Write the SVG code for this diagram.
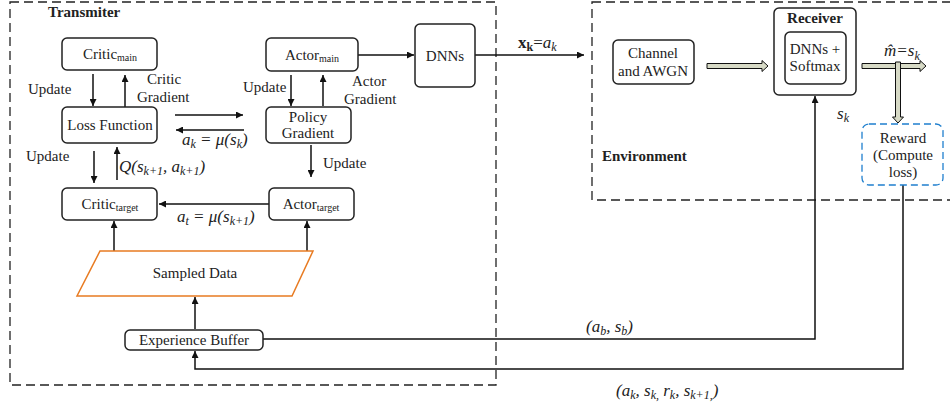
<svg xmlns="http://www.w3.org/2000/svg" width="950" height="405" viewBox="0 0 950 405">
<style>
  text { font-family: "Liberation Serif", "DejaVu Serif", serif; font-size: 15px; fill: #222; }
  .b { font-weight: bold; }
  .i { font-style: italic; }
  .sub { font-size: 10px; }
  .m { font-size: 17px; }
  .m .sub { font-size: 12px; }
  .node { fill: #fff; stroke: #222; stroke-width: 1.5; }
  .frame { fill: none; stroke: #222; stroke-width: 1.3; stroke-dasharray: 9 5; }
  .line { fill: none; stroke: #111; stroke-width: 1.5; }
  .hollow { fill: #d7dac6; stroke: #111; stroke-width: 1; }
</style>
<defs>
  <marker id="ah" viewBox="0 0 10 10" refX="10" refY="5" markerWidth="7" markerHeight="7" markerUnits="userSpaceOnUse" orient="auto">
    <path d="M0,0 L10,5 L0,10 z" fill="#111"/>
  </marker>
</defs>
<rect width="950" height="405" fill="#fff"/>

<!-- frames -->
<g id="transmitter">
  <rect class="frame" x="10" y="2" width="486" height="383"/>
  <text class="b" x="48" y="17" font-size="16">Transmiter</text>
</g>
<g id="environment">
  <rect class="frame" x="592" y="2" width="370" height="198"/>
  <text class="b" x="602" y="161">Environment</text>
</g>

<!-- connectors -->
<g id="connectors">
  <line class="line" x1="93" y1="74" x2="93" y2="106" marker-end="url(#ah)"/>
  <line class="line" x1="125" y1="107" x2="125" y2="75" marker-end="url(#ah)"/>
  <line class="line" x1="94" y1="151" x2="94" y2="183" marker-end="url(#ah)"/>
  <line class="line" x1="117" y1="180" x2="117" y2="147" marker-end="url(#ah)"/>
  <line class="line" x1="175" y1="115" x2="243" y2="115" marker-end="url(#ah)"/>
  <line class="line" x1="244" y1="130" x2="176" y2="130" marker-end="url(#ah)"/>
  <line class="line" x1="291" y1="75" x2="291" y2="106" marker-end="url(#ah)"/>
  <line class="line" x1="323" y1="106" x2="323" y2="75" marker-end="url(#ah)"/>
  <line class="line" x1="311" y1="145" x2="311" y2="177" marker-end="url(#ah)"/>
  <line class="line" x1="269" y1="204" x2="159" y2="204" marker-end="url(#ah)"/>
  <line class="line" x1="114" y1="251" x2="114" y2="221" marker-end="url(#ah)"/>
  <line class="line" x1="307" y1="251" x2="307" y2="221" marker-end="url(#ah)"/>
  <line class="line" x1="195" y1="329" x2="195" y2="297" marker-end="url(#ah)"/>
  <line class="line" x1="358" y1="55" x2="414" y2="55" marker-end="url(#ah)"/>
  <line class="line" x1="475" y1="55" x2="584" y2="55" marker-end="url(#ah)"/>
  <polyline class="line" points="263,339 815,339 815,96" marker-end="url(#ah)"/>
  <polyline class="line" points="903,185 903,369 195,369 195,351" marker-end="url(#ah)"/>
  <path class="hollow" d="M707,63.5 H762 V60.5 L768,66 L762,71.5 V68.5 H707 z"/>
  <path class="hollow" d="M862,63.5 H920 V60.5 L926,66 L920,71.5 V68.5 H862 z"/>
  <path class="hollow" d="M895.5,62 H900.5 V117 H903.5 L898,123 L892.5,117 H895.5 z"/>
  <!-- labels -->
  <text x="28" y="94">Update</text>
  <text x="147" y="84">Critic</text>
  <text x="137" y="102">Gradient</text>
  <text x="26" y="161">Update</text>
  <text x="243" y="92">Update</text>
  <text x="352" y="86">Actor</text>
  <text x="344" y="104">Gradient</text>
  <text x="323" y="168">Update</text>
  <text class="i m" x="182" y="145">a<tspan class="sub" dy="3">k</tspan><tspan dy="-3"> = μ(s</tspan><tspan class="sub" dy="3">k</tspan><tspan dy="-3">)</tspan></text>
  <text class="i m" x="119" y="172">Q(s<tspan class="sub" dy="3">k+1</tspan><tspan dy="-3">, a</tspan><tspan class="sub" dy="3">k+1</tspan><tspan dy="-3">)</tspan></text>
  <text class="i m" x="177" y="222">a<tspan class="sub" dy="3">t</tspan><tspan dy="-3"> = μ(s</tspan><tspan class="sub" dy="3">k+1</tspan><tspan dy="-3">)</tspan></text>
  <text class="m" x="518" y="48"><tspan class="b">x</tspan><tspan class="b sub" dy="3">k</tspan><tspan dy="-3">=</tspan><tspan class="i">a</tspan><tspan class="i sub" dy="3">k</tspan></text>
  <text class="i m" x="884" y="56">m̂=s<tspan class="sub" dy="4">k</tspan></text>
  <text class="i m" x="837" y="119">s<tspan class="sub" dy="3">k</tspan></text>
  <text class="i m" x="586" y="332">(a<tspan class="sub" dy="3">b</tspan><tspan dy="-3">, s</tspan><tspan class="sub" dy="3">b</tspan><tspan dy="-3">)</tspan></text>
  <text class="i m" x="616" y="396">(a<tspan class="sub" dy="3">k</tspan><tspan dy="-3">, s</tspan><tspan class="sub" dy="3">k,</tspan><tspan dy="-3"> r</tspan><tspan class="sub" dy="3">k</tspan><tspan dy="-3">, s</tspan><tspan class="sub" dy="3">k+1,</tspan><tspan dy="-3">)</tspan></text>
</g>

<!-- nodes -->
<g id="critic-main">
  <rect class="node" x="62" y="38" width="95" height="32" rx="5"/>
  <text x="110" y="59" text-anchor="middle">Critic<tspan class="sub" dy="2">main</tspan></text>
</g>
<g id="loss-function">
  <rect class="node" x="62" y="107" width="95" height="36" rx="5"/>
  <text x="110" y="130" text-anchor="middle">Loss Function</text>
</g>
<g id="critic-target">
  <rect class="node" x="62" y="188" width="95" height="32" rx="5"/>
  <text x="110" y="209" text-anchor="middle">Critic<tspan class="sub" dy="2">target</tspan></text>
</g>
<g id="actor-main">
  <rect class="node" x="266" y="38" width="92" height="33" rx="5"/>
  <text x="312" y="60" text-anchor="middle">Actor<tspan class="sub" dy="2">main</tspan></text>
</g>
<g id="policy-gradient">
  <rect class="node" x="266" y="107" width="85" height="36" rx="5"/>
  <text x="308" y="122" text-anchor="middle">Policy</text>
  <text x="308" y="138" text-anchor="middle">Gradient</text>
</g>
<g id="actor-target">
  <rect class="node" x="269" y="188" width="85" height="32" rx="5"/>
  <text x="311" y="209" text-anchor="middle">Actor<tspan class="sub" dy="2">target</tspan></text>
</g>
<g id="dnns">
  <rect class="node" x="415" y="24" width="60" height="63" rx="5"/>
  <text x="445" y="61" text-anchor="middle">DNNs</text>
</g>
<g id="sampled-data">
  <polygon points="100,251 313,251 292,296 77,296" fill="#fff" stroke="#e87b22" stroke-width="1.5"/>
  <text x="195" y="278" text-anchor="middle">Sampled Data</text>
</g>
<g id="experience-buffer">
  <rect class="node" x="125" y="330" width="138" height="20" rx="5"/>
  <text x="194" y="345" text-anchor="middle">Experience Buffer</text>
</g>
<g id="channel">
  <rect class="node" x="613" y="40" width="81" height="44" rx="5"/>
  <text x="653" y="58" text-anchor="middle">Channel</text>
  <text x="653" y="76" text-anchor="middle">and AWGN</text>
</g>
<g id="receiver">
  <rect class="node" x="774" y="8" width="82" height="87" rx="5"/>
  <text class="b" x="815" y="23" text-anchor="middle">Receiver</text>
  <rect class="node" x="785" y="32" width="61" height="52" rx="5"/>
  <text x="815" y="54" text-anchor="middle">DNNs +</text>
  <text x="815" y="71" text-anchor="middle">Softmax</text>
</g>
<g id="reward">
  <rect x="862" y="124" width="81" height="61" rx="7" fill="#fff" stroke="#1f7fce" stroke-width="1.3" stroke-dasharray="7 4"/>
  <text x="903" y="143" text-anchor="middle">Reward</text>
  <text x="903" y="160" text-anchor="middle">(Compute</text>
  <text x="903" y="177" text-anchor="middle">loss)</text>
</g>
</svg>
